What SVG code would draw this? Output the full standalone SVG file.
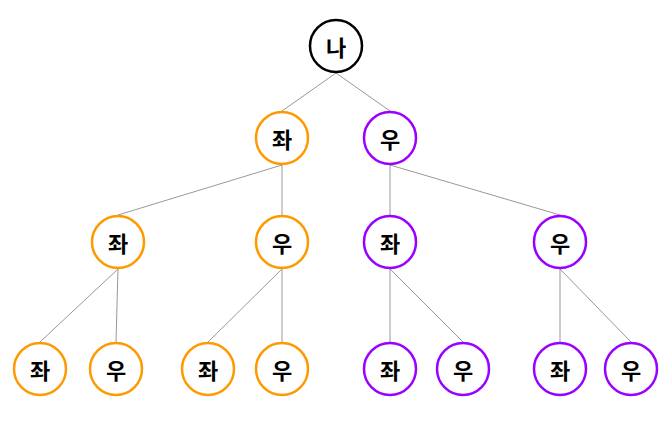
<svg xmlns="http://www.w3.org/2000/svg" width="672" height="447" viewBox="0 0 672 447">
<style>
.e{stroke:#999;stroke-width:1;fill:none}
circle{fill:#fff;stroke-width:2.5}
.r circle{stroke:#000}
.o circle{stroke:#ff9900}
.p circle{stroke:#9900ff}
text{font-family:"Noto Sans CJK KR","Noto Sans",sans-serif;font-size:22px;font-weight:bold;text-anchor:middle;dominant-baseline:central;fill:#000}
</style>
<rect width="672" height="447" fill="#fff"/>
<g id="edges">
<line class="e" x1="336" y1="73" x2="282" y2="111"/>
<line class="e" x1="336" y1="73" x2="390" y2="111"/>
<line class="e" x1="282" y1="165" x2="118" y2="215"/>
<line class="e" x1="282" y1="165" x2="282" y2="215"/>
<line class="e" x1="390" y1="165" x2="390" y2="215"/>
<line class="e" x1="390" y1="165" x2="560" y2="215"/>
<line class="e" x1="118" y1="269" x2="40" y2="342"/>
<line class="e" x1="118" y1="269" x2="116" y2="342"/>
<line class="e" x1="282" y1="269" x2="208" y2="342"/>
<line class="e" x1="282" y1="269" x2="282" y2="342"/>
<line class="e" x1="390" y1="269" x2="390" y2="342"/>
<line class="e" x1="390" y1="269" x2="463" y2="342"/>
<line class="e" x1="560" y1="269" x2="560" y2="342"/>
<line class="e" x1="560" y1="269" x2="631" y2="342"/>
</g>
<g id="root" class="r"><circle cx="336" cy="46" r="26"/><text x="336" y="46">나</text></g>
<g id="n_L" class="o"><circle cx="282" cy="138" r="26"/><text x="282" y="138">좌</text></g>
<g id="n_R" class="p"><circle cx="390" cy="138" r="26"/><text x="390" y="138">우</text></g>
<g id="n_LL" class="o"><circle cx="118" cy="242" r="26"/><text x="118" y="242">좌</text></g>
<g id="n_LR" class="o"><circle cx="282" cy="242" r="26"/><text x="282" y="242">우</text></g>
<g id="n_RL" class="p"><circle cx="390" cy="242" r="26"/><text x="390" y="242">좌</text></g>
<g id="n_RR" class="p"><circle cx="560" cy="242" r="26"/><text x="560" y="242">우</text></g>
<g id="n_LLL" class="o"><circle cx="40" cy="369" r="26"/><text x="40" y="369">좌</text></g>
<g id="n_LLR" class="o"><circle cx="116" cy="369" r="26"/><text x="116" y="369">우</text></g>
<g id="n_LRL" class="o"><circle cx="208" cy="369" r="26"/><text x="208" y="369">좌</text></g>
<g id="n_LRR" class="o"><circle cx="282" cy="369" r="26"/><text x="282" y="369">우</text></g>
<g id="n_RLL" class="p"><circle cx="390" cy="369" r="26"/><text x="390" y="369">좌</text></g>
<g id="n_RLR" class="p"><circle cx="463" cy="369" r="26"/><text x="463" y="369">우</text></g>
<g id="n_RRL" class="p"><circle cx="560" cy="369" r="26"/><text x="560" y="369">좌</text></g>
<g id="n_RRR" class="p"><circle cx="631" cy="369" r="26"/><text x="631" y="369">우</text></g>
</svg>
